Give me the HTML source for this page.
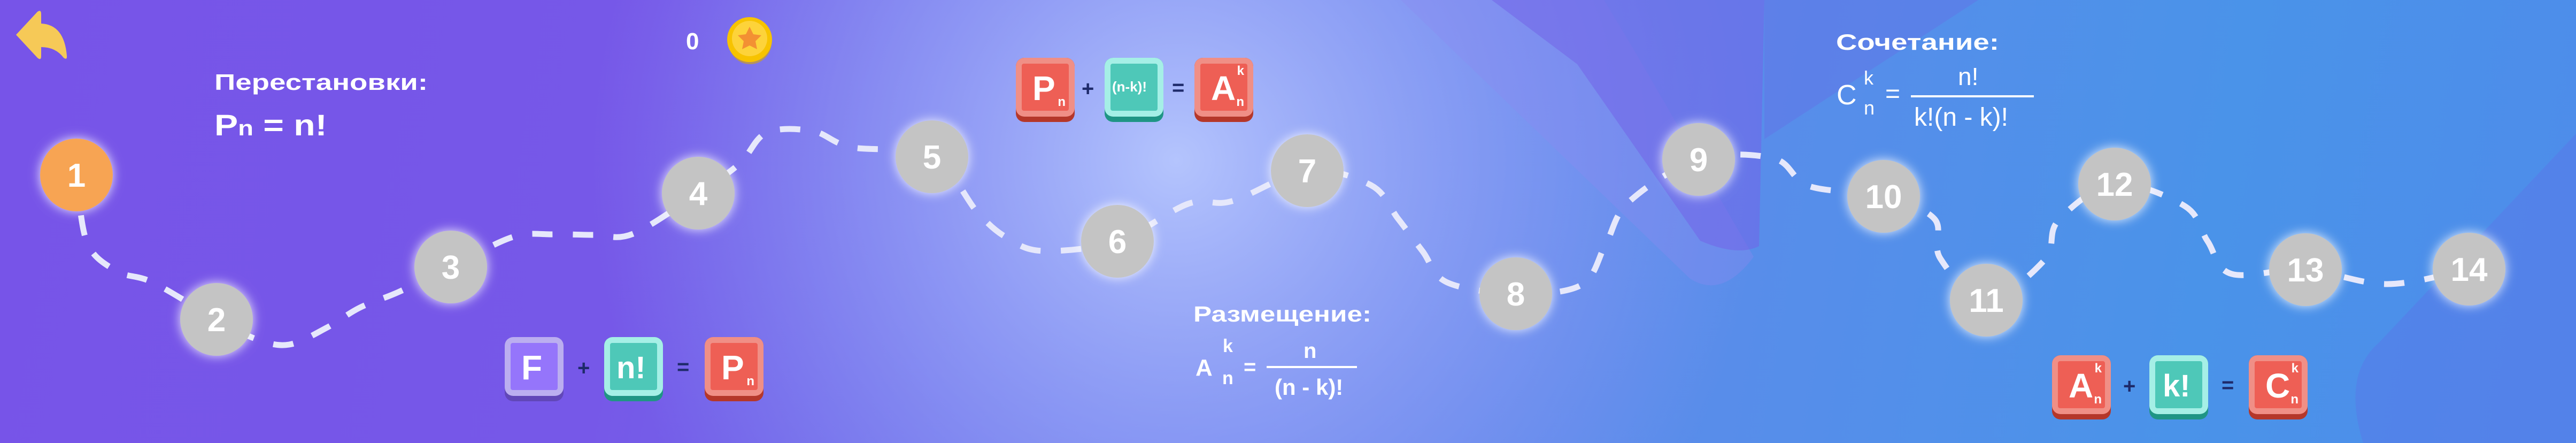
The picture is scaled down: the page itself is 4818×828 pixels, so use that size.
<!DOCTYPE html>
<html><head><meta charset="utf-8"><style>
html,body{margin:0;padding:0}
body{width:4818px;height:828px;overflow:hidden;position:relative;font-family:"Liberation Sans",sans-serif;
background:linear-gradient(100deg,#7754e8 0%,#7658e8 25%,#6c79ec 45%,#5a8cea 65%,#4a93e9 85%,#4e8cea 100%);}
.abs{position:absolute}
.t{position:absolute;color:#fff;font-weight:bold;white-space:nowrap;line-height:1;transform-origin:0 0}
.n{position:absolute;color:#fff;white-space:nowrap;line-height:1}
</style></head><body>
<svg class="abs" style="left:0;top:0" width="4818" height="828">
<defs>
<radialGradient id="glow" cx="2200" cy="300" r="1100" gradientUnits="userSpaceOnUse">
<stop offset="0" stop-color="#b4c4fd" stop-opacity="1"/>
<stop offset="0.5" stop-color="#98a8f8" stop-opacity="0.6"/>
<stop offset="1" stop-color="#8a9af5" stop-opacity="0"/>
</radialGradient>
<filter id="gl" x="-50%" y="-50%" width="200%" height="200%"><feDropShadow dx="0" dy="0" stdDeviation="10" flood-color="#ffffff" flood-opacity="0.85"/></filter>
</defs>
<rect width="4818" height="828" fill="url(#glow)"/>
<path d="M2620,0 L3000,0 L3060,100 L3280,480 Q3220,560 3160,520 Z" fill="#8c8af2" opacity="0.35"/>
<path d="M2790,0 L3300,0 L3290,460 Q3250,480 3180,450 L2950,120 Z" fill="#7364e8" opacity="0.55"/>
<path d="M3300,0 L3700,0 L3300,260 Z" fill="#6a62e6" opacity="0.3"/>
<path d="M4818,250 L4818,828 L4420,828 Q4380,700 4450,640 Z" fill="#5a76e8" opacity="0.45"/>
<path id="road" d="" fill="none" stroke="#e6e8fb" stroke-width="11" stroke-dasharray="38 38" stroke-linecap="butt"/>
<path d="M30,65 L70,22 Q77,17 77,26 L77,44 Q120,46 125,104 Q126,113 119,108 Q104,88 77,88 L77,105 Q77,114 70,108 Z" fill="#f6c957"/>
<circle cx="1403" cy="80" r="40" fill="#d8a800" opacity="0.6"/>
<circle cx="1402" cy="74" r="42" fill="#f7c300"/>
<circle cx="1402" cy="72" r="33" fill="#fdd33a"/>
<polygon points="1402,50 1409,64 1424,66 1413,77 1416,92 1402,85 1388,92 1391,77 1380,66 1395,64" fill="#f39033"/>
<g id="nodes" filter="url(#gl)"></g>
</svg>
<div class="t" style="left:1283px;top:56px;font-size:44px">0</div>
<div class="t" style="left:401px;top:133px;font-size:42px;transform:scaleX(1.3)">Перестановки:</div>
<div class="t" style="left:401px;top:206px;font-size:56px;transform:scaleX(1.18)">P<span style="font-size:40px">n</span> = n!</div>
<div class="t" style="left:2232px;top:567px;font-size:41px;transform:scaleX(1.25)">Размещение:</div>
<div class="t" style="left:2236px;top:666px;font-size:44px">A</div>
<div class="t" style="left:2287px;top:630px;font-size:34px">k</div>
<div class="t" style="left:2286px;top:690px;font-size:34px">n</div>
<div class="t" style="left:2326px;top:666px;font-size:40px">=</div>
<div class="abs" style="left:2369px;top:684px;width:169px;height:4px;background:#fff"></div>
<div class="t" style="left:2438px;top:636px;font-size:40px">n</div>
<div class="t" style="left:2384px;top:703px;font-size:42px">(n - k)!</div>
<div class="t" style="left:3434px;top:58px;font-size:42px;transform:scaleX(1.3)">Сочетание:</div>
<div class="n" style="left:3435px;top:152px;font-size:52px">C</div>
<div class="n" style="left:3486px;top:128px;font-size:36px">k</div>
<div class="n" style="left:3486px;top:184px;font-size:36px">n</div>
<div class="n" style="left:3526px;top:152px;font-size:48px">=</div>
<div class="abs" style="left:3574px;top:178px;width:230px;height:4px;background:#fff"></div>
<div class="n" style="left:3662px;top:120px;font-size:46px">n!</div>
<div class="n" style="left:3580px;top:196px;font-size:48px">k!(n - k)!</div>
<div id="tiles"></div>
<script>
var pts=[[143,327],[163,454],[219,507],[286,528],[405,597],[480,634],[541,644],[612,612],[673,575],[745,546],[843,499],[959,443],[1036,438],[1112,439],[1184,437],[1306,361],[1383,306],[1434,248],[1520,245],[1592,275],[1743,293],[1830,399],[1886,446],[1952,469],[2090,451],[2222,381],[2304,376],[2445,319],[2564,346],[2615,409],[2661,470],[2707,528],[2835,549],[2957,533],[3003,457],[3047,377],[3177,298],[3317,296],[3384,348],[3523,367],[3618,409],[3629,483],[3715,561],[3824,486],[3850,412],[3955,344],[4086,385],[4129,451],[4174,512],[4312,504],[4465,531],[4618,503]];
var d="M"+pts[0].join(",");
for(var i=0;i<pts.length-1;i++){var p0=pts[i-1]||pts[i],p1=pts[i],p2=pts[i+1],p3=pts[i+2]||p2;
d+=" C"+(p1[0]+(p2[0]-p0[0])/6)+","+(p1[1]+(p2[1]-p0[1])/6)+" "+(p2[0]-(p3[0]-p1[0])/6)+","+(p2[1]-(p3[1]-p1[1])/6)+" "+p2[0]+","+p2[1];}
document.getElementById("road").setAttribute("d",d);
var nodes=[[143,327],[405,597],[843,499],[1306,361],[1743,293],[2090,451],[2445,319],[2835,549],[3177,298],[3523,367],[3715,561],[3955,344],[4312,504],[4618,503]];
var g=document.getElementById("nodes"),s="";
nodes.forEach(function(n,i){s+='<circle cx="'+n[0]+'" cy="'+n[1]+'" r="68" fill="'+(i==0?'#f7a452':'#c4c4c4')+'"/>';
s+='<text x="'+n[0]+'" y="'+(n[1]+22)+'" text-anchor="middle" font-family="Liberation Sans,sans-serif" font-weight="bold" font-size="62" fill="#fff">'+(i+1)+'</text>';});
g.innerHTML=s;
var C={p:["#bbaef0","#9575fb","#6147b8"],t:["#a5efe6","#4ec8b8","#1f9585"],r:["#f08f86","#ee5f55","#b5372a"]};
function tile(x,y,c,html){var k=C[c];return '<div class="abs" style="left:'+x+'px;top:'+y+'px;width:110px;height:120px;border-radius:16px;background:'+k[2]+'"></div><div class="abs" style="left:'+x+'px;top:'+y+'px;width:110px;height:110px;border-radius:16px;background:'+k[0]+'"></div><div class="abs" style="left:'+(x+11)+'px;top:'+(y+11)+'px;width:88px;height:88px;border-radius:4px;background:'+k[1]+';color:#fff;font-weight:bold;overflow:hidden">'+html+'</div>';}
function op(x,y,ch){return '<div class="t" style="left:'+x+'px;top:'+y+'px;font-size:40px;color:#1e2a6a">'+ch+'</div>';}
var big='<span style="position:absolute;left:20px;top:14px;font-size:64px;line-height:1">';
var sub=function(t){return '<span style="position:absolute;right:6px;bottom:4px;font-size:24px;line-height:1">'+t+'</span>';};
var sup=function(t){return '<span style="position:absolute;right:6px;top:2px;font-size:24px;line-height:1">'+t+'</span>';};
var h="";
h+=tile(944,630,"p",big+'F</span>')+op(1080,668,"+")+tile(1130,630,"t",'<span style="position:absolute;left:12px;top:18px;font-size:58px;line-height:1">n!</span>')+op(1266,666,"=")+tile(1318,630,"r",big+'P</span>'+sub("n"));
h+=tile(1900,108,"r",big+'P</span>'+sub("n"))+op(2023,146,"+")+tile(2066,108,"t",'<span style="position:absolute;left:3px;top:30px;font-size:26px;line-height:1">(n-k)!</span>')+op(2192,144,"=")+tile(2234,108,"r",big+'A</span>'+sup("k")+sub("n"));
h+=tile(3838,664,"r",big+'A</span>'+sup("k")+sub("n"))+op(3971,702,"+")+tile(4020,664,"t",'<span style="position:absolute;left:14px;top:18px;font-size:58px;line-height:1">k!</span>')+op(4155,700,"=")+tile(4206,664,"r",big+'C</span>'+sup("k")+sub("n"));
document.getElementById("tiles").innerHTML=h;
</script>
</body></html>
